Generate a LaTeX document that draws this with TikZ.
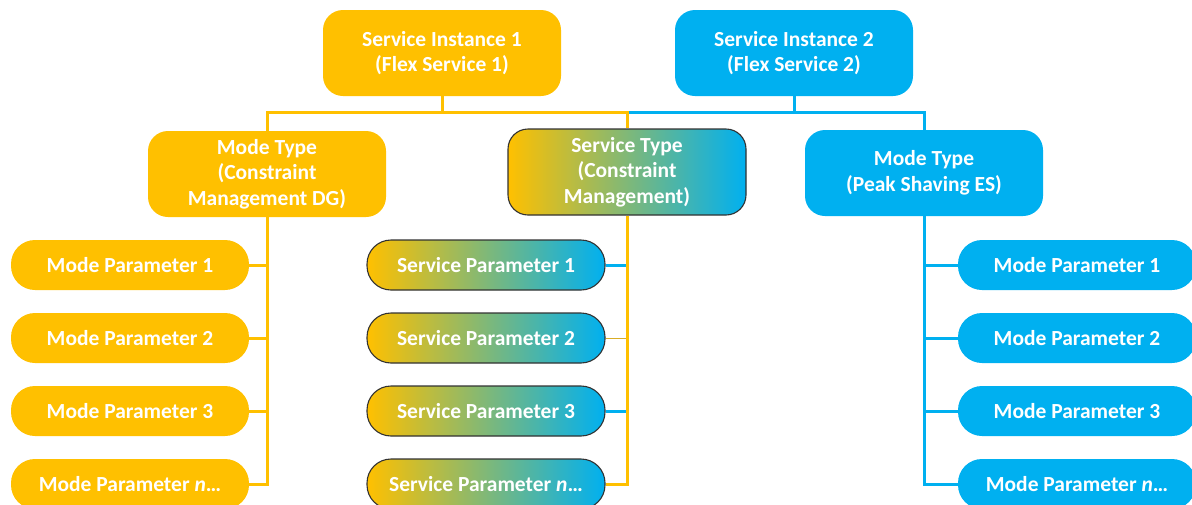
\documentclass[tikz,border=0pt]{standalone}
\usepackage{fontspec}
\setmainfont{Carlito}
\usetikzlibrary{positioning}

\definecolor{yel}{RGB}{255,192,0}
\definecolor{blu}{RGB}{0,176,240}
\definecolor{edge}{RGB}{50,50,50}

\tikzset{
  box/.style={minimum width=238pt, inner sep=0pt, align=center, text=white,
    font=\fontsize{21.5}{25.5}\selectfont\bfseries},
  topbox/.style={box, rounded corners=20pt, minimum height=86pt},
  parbox/.style={box, rounded corners=24pt, minimum height=50pt},
  ybox/.style={fill=yel},
  bbox/.style={fill=blu},
  gbox/.style={left color=yel, right color=blu, draw=edge, line width=1.1pt},
  ylink/.style={draw=yel, line width=3pt},
  blink/.style={draw=blu, line width=3pt},
  thinlink/.style={draw=yel!70!gray, line width=0.8pt}
}

\begin{document}
\begin{tikzpicture}[x=1pt,y=-1pt]
 \clip (0,0) rectangle (1192,504);

 \node[topbox,ybox] (si1) at (442,53) {Service Instance 1\\(Flex Service 1)};
 \node[topbox,bbox] (si2) at (794,53) {Service Instance 2\\(Flex Service 2)};

 \node[topbox,ybox] (mtdg) at (267,174) {Mode Type\\(Constraint\\Management DG)};
 \node[topbox,gbox] (st) at (627,172) {Service Type\\(Constraint\\Management)};
 \node[topbox,bbox] (mtes) at (924,173) {Mode Type\\(Peak Shaving ES)};

 \node[parbox,ybox] (mp1) at (130,265) {Mode Parameter 1};
 \node[parbox,ybox] (mp2) at (130,338) {Mode Parameter 2};
 \node[parbox,ybox] (mp3) at (130,411) {Mode Parameter 3};
 \node[parbox,ybox] (mp4) at (130,484) {Mode Parameter \textit{n}…};

 \node[parbox,gbox] (sp1) at (486,265) {Service Parameter 1};
 \node[parbox,gbox] (sp2) at (486,338) {Service Parameter 2};
 \node[parbox,gbox] (sp3) at (486,411) {Service Parameter 3};
 \node[parbox,gbox] (sp4) at (486,484) {Service Parameter \textit{n}…};

 \node[parbox,bbox] (ep1) at (1077,265) {Mode Parameter 1};
 \node[parbox,bbox] (ep2) at (1077,338) {Mode Parameter 2};
 \node[parbox,bbox] (ep3) at (1077,411) {Mode Parameter 3};
 \node[parbox,bbox] (ep4) at (1077,484) {Mode Parameter \textit{n}…};

 \coordinate (bus1) at (442,112);
 \coordinate (bus2) at (794,112);

 \draw[blink] (si2.south) -- (bus2);
 \draw[blink] (st.north |- bus2) -- (bus2) -| (mtes.north);
 \draw[ylink] (si1.south) -- (bus1);
 \draw[ylink] (mtdg.north) |- (bus1) -| (st.north);

 \draw[ylink] (mtdg.south) |- (mp1.east);
 \draw[ylink] (mtdg.south) |- (mp2.east);
 \draw[ylink] (mtdg.south) |- (mp3.east);
 \draw[ylink] (mtdg.south) |- (mp4.east);

 \draw[blink] (sp1.east) -- (sp1.east -| st.south);
 \draw[thinlink] (sp2.east) -- (sp2.east -| st.south);
 \draw[blink] (sp3.east) -- (sp3.east -| st.south);
 \draw[ylink] (st.south) |- (sp4.east);

 \draw[blink] (mtes.south) |- (ep1.west);
 \draw[blink] (mtes.south) |- (ep2.west);
 \draw[blink] (mtes.south) |- (ep3.west);
 \draw[blink] (mtes.south) |- (ep4.west);
\end{tikzpicture}
\end{document}
